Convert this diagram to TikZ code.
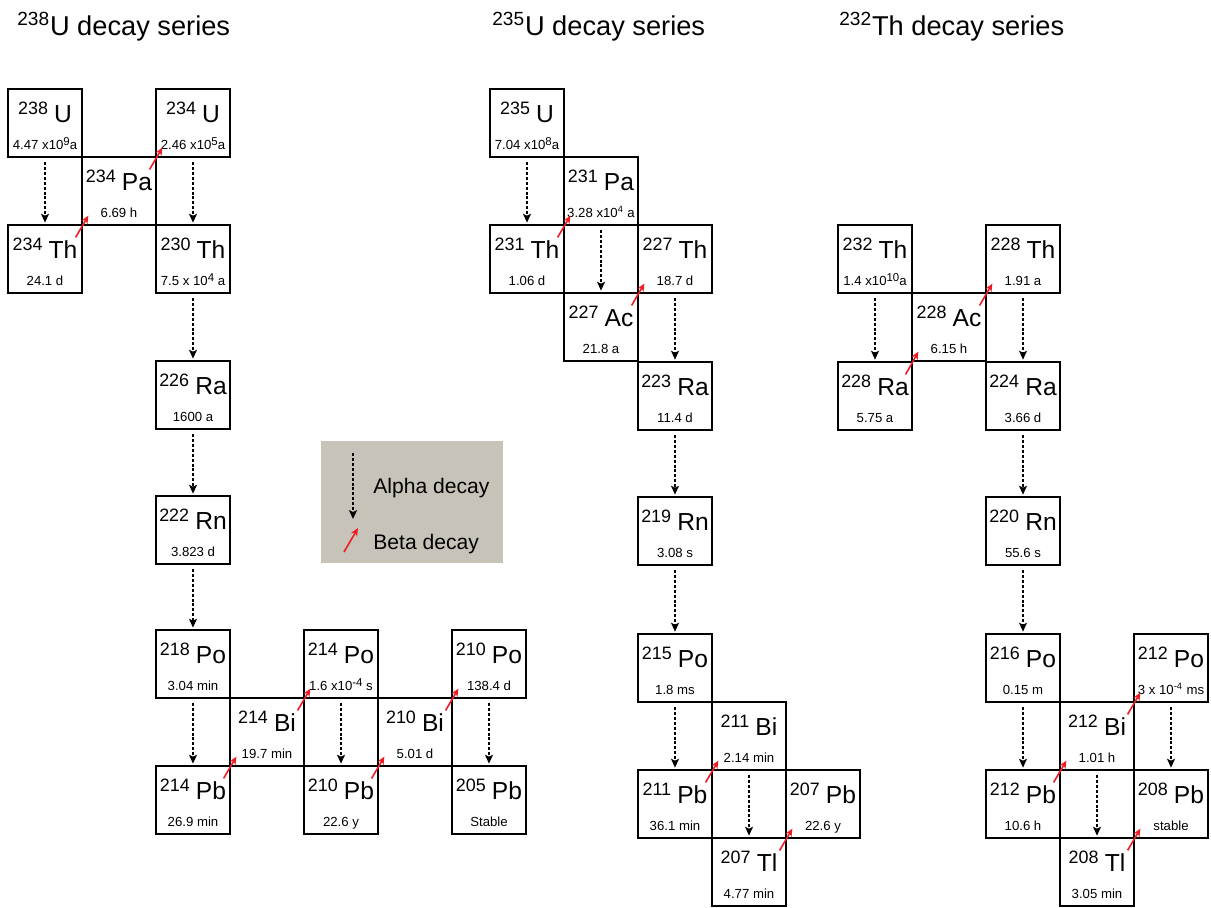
\documentclass[tikz,border=0pt]{standalone}
\usepackage{fontspec}
\setmainfont{Liberation Sans}
\usetikzlibrary{arrows.meta, calc}

\definecolor{legendgray}{RGB}{199,195,184}
\definecolor{betared}{RGB}{237,28,36}

\newcommand{\nuc}[2]{\raisebox{4.5pt}{\fontsize{10.2}{12}\selectfont #1}\hspace{3.5pt}{\fontsize{14}{16}\selectfont #2}}
\newcommand{\hlsup}[1]{\raisebox{0.55ex}{\fontsize{6.5}{7}\selectfont #1}}

\tikzset{
  nucbox/.style={draw, line width=0.7pt, minimum width=1.48cm, minimum height=1.36cm,
    inner sep=0pt, text height=0.45cm, text depth=0.49cm},
  halflife/.style={anchor=base, yshift=0.16cm, inner sep=0pt, font=\fontsize{7.5}{9}\selectfont},
  alphadecay/.style={line width=0.85pt, dash pattern=on 1.7pt off 1.1pt,
    -{Stealth[length=5pt, width=4.5pt, inset=1pt]}, shorten <=2.5pt, shorten >=1pt},
  betadecay/.style={betared, line width=0.9pt, -{Stealth[length=4.5pt, width=4pt]}},
  seriestitle/.style={anchor=base west, inner sep=0pt, font=\fontsize{15.5}{19}\selectfont},
  legendtext/.style={anchor=base west, inner sep=0pt, font=\fontsize{12}{14}\selectfont},
}

\begin{document}
\begin{tikzpicture}[x=0.02cm, y=-0.02cm]
    \useasboundingbox (0,0) rectangle (1211,907);

    % titles
    \node[seriestitle] (titleU238) at (17,35) {\textsuperscript{238}U decay series};
    \node[seriestitle] (titleU235) at (492,35) {\textsuperscript{235}U decay series};
    \node[seriestitle] (titleTh232) at (839,35) {\textsuperscript{232}Th decay series};

    % 238U series
    \node[nucbox, label={[halflife]south:4.47 x10\hlsup{9}a}] (U238) at (45,123) {\nuc{238}{U}};
    \node[nucbox, label={[halflife]south:6.69 h}] (Pa234) at (119,191) {\nuc{234}{Pa}};
    \node[nucbox, label={[halflife]south:2.46 x10\hlsup{5}a}] (U234) at (193,123) {\nuc{234}{U}};
    \node[nucbox, label={[halflife]south:24.1 d}] (Th234) at (45,259) {\nuc{234}{Th}};
    \node[nucbox, label={[halflife]south:7.5 x 10\hlsup{4} a}] (Th230) at (193,259) {\nuc{230}{Th}};
    \node[nucbox, label={[halflife]south:1600 a}] (Ra226) at (193,395) {\nuc{226}{Ra}};
    \node[nucbox, label={[halflife]south:3.823 d}] (Rn222) at (193,530) {\nuc{222}{Rn}};
    \node[nucbox, label={[halflife]south:3.04 min}] (Po218) at (193,664) {\nuc{218}{Po}};
    \node[nucbox, label={[halflife]south:19.7 min}] (Bi214) at (267,732) {\nuc{214}{Bi}};
    \node[nucbox, label={[halflife]south:1.6 x10\hlsup{-4} s}] (Po214) at (341,664) {\nuc{214}{Po}};
    \node[nucbox, label={[halflife]south:26.9 min}] (Pb214) at (193,800) {\nuc{214}{Pb}};
    \node[nucbox, label={[halflife]south:22.6 y}] (Pb210) at (341,800) {\nuc{210}{Pb}};
    \node[nucbox, label={[halflife]south:5.01 d}] (Bi210) at (415,732) {\nuc{210}{Bi}};
    \node[nucbox, label={[halflife]south:138.4 d}] (Po210) at (489,664) {\nuc{210}{Po}};
    \node[nucbox, label={[halflife]south:Stable}] (Pb205) at (489,800) {\nuc{205}{Pb}};

    % 235U series
    \node[nucbox, label={[halflife]south:7.04 x10\hlsup{8}a}] (U235) at (527,123) {\nuc{235}{U}};
    \node[nucbox, label={[halflife]south:3.28 x10\textsuperscript{4} a}] (Pa231) at (601,191) {\nuc{231}{Pa}};
    \node[nucbox, label={[halflife]south:1.06 d}] (Th231) at (527,259) {\nuc{231}{Th}};
    \node[nucbox, label={[halflife]south:18.7 d}] (Th227) at (675,259) {\nuc{227}{Th}};
    \node[nucbox, label={[halflife]south:21.8 a}] (Ac227) at (601,327) {\nuc{227}{Ac}};
    \node[nucbox, label={[halflife]south:11.4 d}] (Ra223) at (675,396) {\nuc{223}{Ra}};
    \node[nucbox, label={[halflife]south:3.08 s}] (Rn219) at (675,531) {\nuc{219}{Rn}};
    \node[nucbox, label={[halflife]south:1.8 ms}] (Po215) at (675,668) {\nuc{215}{Po}};
    \node[nucbox, label={[halflife]south:2.14 min}] (Bi211) at (749,736) {\nuc{211}{Bi}};
    \node[nucbox, label={[halflife]south:36.1 min}] (Pb211) at (675,804) {\nuc{211}{Pb}};
    \node[nucbox, label={[halflife]south:22.6 y}] (Pb207) at (823,804) {\nuc{207}{Pb}};
    \node[nucbox, label={[halflife]south:4.77 min}] (Tl207) at (749,872) {\nuc{207}{Tl}};

    % 232Th series
    \node[nucbox, label={[halflife]south:1.4 x10\hlsup{10}a}] (Th232) at (875,259) {\nuc{232}{Th}};
    \node[nucbox, label={[halflife]south:6.15 h}] (Ac228) at (949,327) {\nuc{228}{Ac}};
    \node[nucbox, label={[halflife]south:1.91 a}] (Th228) at (1023,259) {\nuc{228}{Th}};
    \node[nucbox, label={[halflife]south:5.75 a}] (Ra228) at (875,396) {\nuc{228}{Ra}};
    \node[nucbox, label={[halflife]south:3.66 d}] (Ra224) at (1023,396) {\nuc{224}{Ra}};
    \node[nucbox, label={[halflife]south:55.6 s}] (Rn220) at (1023,531) {\nuc{220}{Rn}};
    \node[nucbox, label={[halflife]south:0.15 m}] (Po216) at (1023,668) {\nuc{216}{Po}};
    \node[nucbox, label={[halflife]south:1.01 h}] (Bi212) at (1097,736) {\nuc{212}{Bi}};
    \node[nucbox, label={[halflife]south:3 x 10\textsuperscript{-4} ms}] (Po212) at (1171,668) {\nuc{212}{Po}};
    \node[nucbox, label={[halflife]south:10.6 h}] (Pb212) at (1023,804) {\nuc{212}{Pb}};
    \node[nucbox, label={[halflife]south:stable}] (Pb208) at (1171,804) {\nuc{208}{Pb}};
    \node[nucbox, label={[halflife]south:3.05 min}] (Tl208) at (1097,872) {\nuc{208}{Tl}};

    % alpha decays
    \foreach \a/\b in {U238/Th234, U234/Th230, Th230/Ra226, Ra226/Rn222, Rn222/Po218,
        Po218/Pb214, Po214/Pb210, Po210/Pb205,
        U235/Th231, Pa231/Ac227, Th227/Ra223, Ra223/Rn219, Rn219/Po215, Po215/Pb211, Bi211/Tl207,
        Th232/Ra228, Th228/Ra224, Ra224/Rn220, Rn220/Po216, Po216/Pb212, Po212/Pb208, Bi212/Tl208}
        \draw[alphadecay] (\a.south) -- (\b.north);

    % beta decays
    \foreach \a/\b in {Th234/Pa234, Pa234/U234, Pb214/Bi214, Bi214/Po214, Pb210/Bi210, Bi210/Po210,
        Th231/Pa231, Ac227/Th227, Pb211/Bi211, Tl207/Pb207,
        Ra228/Ac228, Ac228/Th228, Pb212/Bi212, Bi212/Po212, Tl208/Pb208}
        \draw[betadecay] ($(\a.north east)+(-7,13)$) -- ($(\b.south west)+(7,-10)$);

    % legend
    \fill[legendgray] (321,441) rectangle (503,563);
    \coordinate (alphaStart) at (353,453);
    \coordinate (alphaEnd) at (353,519);
    \coordinate (betaStart) at (344,552);
    \coordinate (betaEnd) at (358,528);
    \draw[alphadecay, shorten <=0pt, shorten >=0pt] (alphaStart) -- (alphaEnd);
    \draw[betadecay] (betaStart) -- (betaEnd);
    \node[legendtext] (alphaText) at (373,493) {Alpha decay};
    \node[legendtext] (betaText) at (373,549) {Beta decay};
\end{tikzpicture}
\end{document}
